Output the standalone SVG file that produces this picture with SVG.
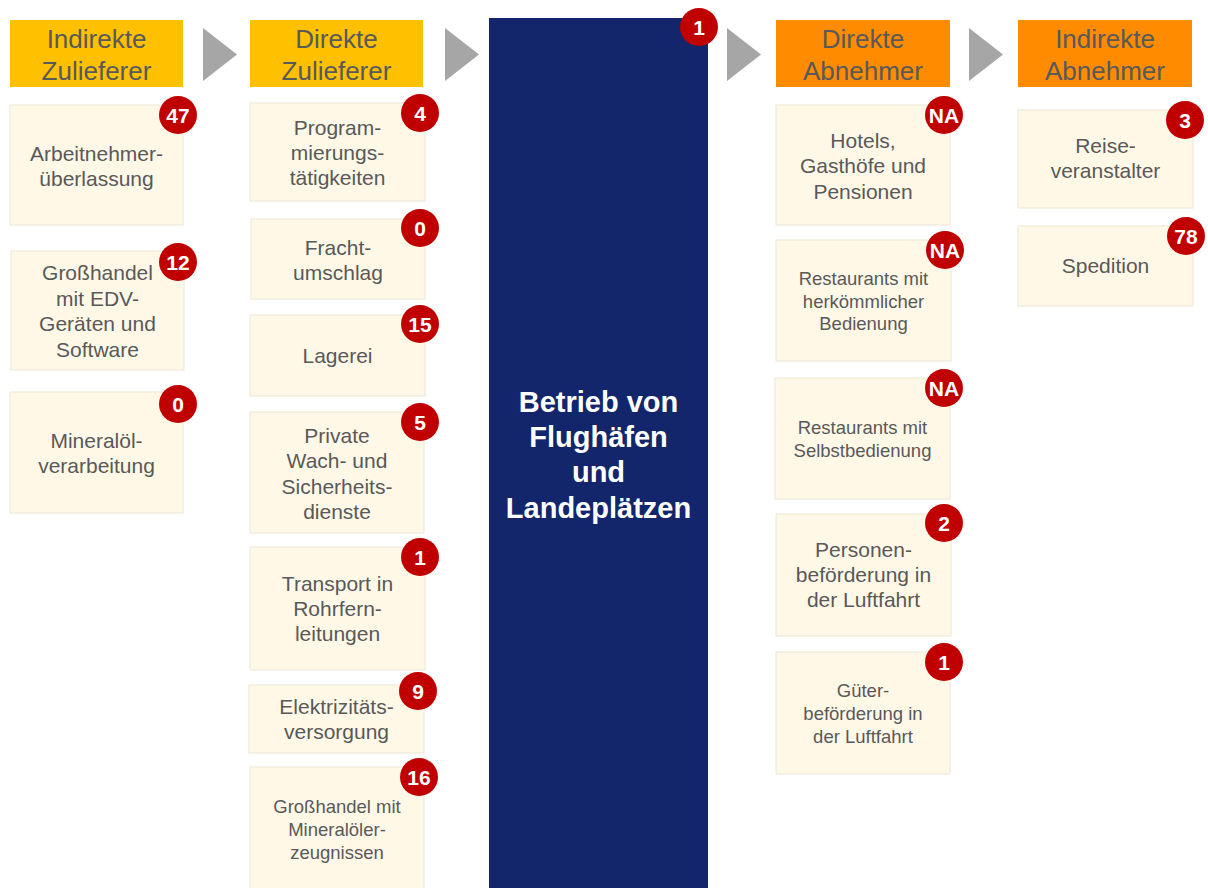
<svg xmlns="http://www.w3.org/2000/svg" width="1208" height="888" viewBox="0 0 1208 888">
<style>
.hdr1{fill:#FFC000}
.hdr2{fill:#FF8C00}
.ht{font-family:"Liberation Sans",Arial,sans-serif;font-size:26px;fill:#595959;text-anchor:middle}
.card{fill:#FFF8E7;stroke:#ECE6D6;stroke-width:1}
.ct{font-family:"Liberation Sans",Arial,sans-serif;font-size:21px;fill:#595959;text-anchor:middle}
.cs{font-family:"Liberation Sans",Arial,sans-serif;font-size:18.5px;fill:#595959;text-anchor:middle}
.bd{fill:#C00000}
.bt{font-family:"Liberation Sans",Arial,sans-serif;font-size:21px;font-weight:bold;fill:#FFFFFF;text-anchor:middle}
.chev{fill:#A6A6A6}
.main{fill:#13266B}
.mt{font-family:"Liberation Sans",Arial,sans-serif;font-size:29px;font-weight:bold;fill:#FFFFFF;text-anchor:middle}
</style>
<rect width="1208" height="888" fill="#FFFFFF"/>
<g id="connectors">
<polygon class="chev" points="203,28 237,54.5 203,81"/>
<polygon class="chev" points="445,28 479,54.5 445,81"/>
<polygon class="chev" points="727,28 761,54.5 727,81"/>
<polygon class="chev" points="969,28 1003,54.5 969,81"/>
</g>
<g id="hdr-indirekte-zulieferer">
<rect class="hdr1" x="10" y="20" width="173" height="67"/>
<text class="ht" x="96.5" y="48">Indirekte</text>
<text class="ht" x="96.5" y="80">Zulieferer</text>
</g>
<g id="hdr-direkte-zulieferer">
<rect class="hdr1" x="250" y="20" width="173" height="67"/>
<text class="ht" x="336.5" y="48">Direkte</text>
<text class="ht" x="336.5" y="80">Zulieferer</text>
</g>
<g id="hdr-direkte-abnehmer">
<rect class="hdr2" x="776" y="20" width="174" height="67"/>
<text class="ht" x="863" y="48">Direkte</text>
<text class="ht" x="863" y="80">Abnehmer</text>
</g>
<g id="hdr-indirekte-abnehmer">
<rect class="hdr2" x="1018" y="20" width="174" height="67"/>
<text class="ht" x="1105" y="48">Indirekte</text>
<text class="ht" x="1105" y="80">Abnehmer</text>
</g>
<g id="main">
<rect class="main" x="489" y="18" width="219" height="870"/>
<text class="mt" x="598.5" y="412">Betrieb von</text>
<text class="mt" x="598.5" y="447">Flughäfen</text>
<text class="mt" x="598.5" y="482">und</text>
<text class="mt" x="598.5" y="518">Landeplätzen</text>
<circle class="bd" cx="699" cy="27" r="19"/>
<text class="bt" x="699" y="34.5">1</text>
</g>
<g id="n-arbeitnehmer">
<rect class="card" x="10" y="105" width="173" height="120"/>
<text class="ct" x="96.5" y="161">Arbeitnehmer-</text>
<text class="ct" x="96.5" y="186">überlassung</text>
<circle class="bd" cx="178" cy="115" r="19"/>
<text class="bt" x="178" y="122.5">47</text>
</g>
<g id="n-edv">
<rect class="card" x="11" y="251" width="173" height="119"/>
<text class="ct" x="97.5" y="280">Großhandel</text>
<text class="ct" x="97.5" y="305.5">mit EDV-</text>
<text class="ct" x="97.5" y="331">Geräten  und</text>
<text class="ct" x="97.5" y="356.5">Software</text>
<circle class="bd" cx="178" cy="262" r="19"/>
<text class="bt" x="178" y="269.5">12</text>
</g>
<g id="n-mineraloel">
<rect class="card" x="10" y="392" width="173" height="121"/>
<text class="ct" x="96.5" y="448">Mineralöl-</text>
<text class="ct" x="96.5" y="473">verarbeitung</text>
<circle class="bd" cx="178" cy="404" r="19"/>
<text class="bt" x="178" y="411.5">0</text>
</g>
<g id="n-programmierung">
<rect class="card" x="250" y="103" width="175" height="98"/>
<text class="ct" x="337.5" y="135">Program-</text>
<text class="ct" x="337.5" y="160">mierungs-</text>
<text class="ct" x="337.5" y="185">tätigkeiten</text>
<circle class="bd" cx="420" cy="113" r="19"/>
<text class="bt" x="420" y="120.5">4</text>
</g>
<g id="n-fracht">
<rect class="card" x="251" y="219" width="174" height="80"/>
<text class="ct" x="338" y="255">Fracht-</text>
<text class="ct" x="338" y="280">umschlag</text>
<circle class="bd" cx="420" cy="228" r="19"/>
<text class="bt" x="420" y="235.5">0</text>
</g>
<g id="n-lagerei">
<rect class="card" x="250" y="315" width="175" height="81"/>
<text class="ct" x="337.5" y="363">Lagerei</text>
<circle class="bd" cx="420" cy="324" r="19"/>
<text class="bt" x="420" y="331.5">15</text>
</g>
<g id="n-wach">
<rect class="card" x="250" y="412" width="174" height="121"/>
<text class="ct" x="337" y="443">Private</text>
<text class="ct" x="337" y="468">Wach- und</text>
<text class="ct" x="337" y="494">Sicherheits-</text>
<text class="ct" x="337" y="519">dienste</text>
<circle class="bd" cx="420" cy="422" r="19"/>
<text class="bt" x="420" y="429.5">5</text>
</g>
<g id="n-rohr">
<rect class="card" x="250" y="547" width="175" height="123"/>
<text class="ct" x="337.5" y="591">Transport  in</text>
<text class="ct" x="337.5" y="616">Rohrfern-</text>
<text class="ct" x="337.5" y="641">leitungen</text>
<circle class="bd" cx="420" cy="557" r="19"/>
<text class="bt" x="420" y="564.5">1</text>
</g>
<g id="n-elektro">
<rect class="card" x="249" y="685" width="175" height="68"/>
<text class="ct" x="336.5" y="714">Elektrizitäts-</text>
<text class="ct" x="336.5" y="739">versorgung</text>
<circle class="bd" cx="418" cy="691" r="19"/>
<text class="bt" x="418" y="698.5">9</text>
</g>
<g id="n-mineraloelerz">
<rect class="card" x="250" y="767" width="174" height="125"/>
<text class="cs" x="337" y="813">Großhandel mit</text>
<text class="cs" x="337" y="836">Mineralöler-</text>
<text class="cs" x="337" y="859">zeugnissen</text>
<circle class="bd" cx="419" cy="777" r="19"/>
<text class="bt" x="419" y="784.5">16</text>
</g>
<g id="n-hotels">
<rect class="card" x="776" y="105" width="174" height="120"/>
<text class="ct" x="863" y="148">Hotels,</text>
<text class="ct" x="863" y="173">Gasthöfe  und</text>
<text class="ct" x="863" y="199">Pensionen</text>
<circle class="bd" cx="944" cy="115" r="19"/>
<text class="bt" x="944" y="122.5">NA</text>
</g>
<g id="n-rest-herk">
<rect class="card" x="776" y="240" width="175" height="121"/>
<text class="cs" x="863.5" y="285">Restaurants mit</text>
<text class="cs" x="863.5" y="308">herkömmlicher</text>
<text class="cs" x="863.5" y="330">Bedienung</text>
<circle class="bd" cx="945" cy="250" r="19"/>
<text class="bt" x="945" y="257.5">NA</text>
</g>
<g id="n-rest-selbst">
<rect class="card" x="775" y="378" width="175" height="121"/>
<text class="cs" x="862.5" y="434">Restaurants mit</text>
<text class="cs" x="862.5" y="457">Selbstbedienung</text>
<circle class="bd" cx="944" cy="388" r="19"/>
<text class="bt" x="944" y="395.5">NA</text>
</g>
<g id="n-personen">
<rect class="card" x="776" y="514" width="175" height="122"/>
<text class="ct" x="863.5" y="557">Personen-</text>
<text class="ct" x="863.5" y="582">beförderung in</text>
<text class="ct" x="863.5" y="607">der Luftfahrt</text>
<circle class="bd" cx="944" cy="523" r="19"/>
<text class="bt" x="944" y="530.5">2</text>
</g>
<g id="n-gueter">
<rect class="card" x="776" y="652" width="174" height="122"/>
<text class="cs" x="863" y="697">Güter-</text>
<text class="cs" x="863" y="720">beförderung in</text>
<text class="cs" x="863" y="743">der Luftfahrt</text>
<circle class="bd" cx="944" cy="662" r="19"/>
<text class="bt" x="944" y="669.5">1</text>
</g>
<g id="n-reise">
<rect class="card" x="1018" y="110" width="175" height="98"/>
<text class="ct" x="1105.5" y="153">Reise-</text>
<text class="ct" x="1105.5" y="178">veranstalter</text>
<circle class="bd" cx="1185" cy="120" r="19"/>
<text class="bt" x="1185" y="127.5">3</text>
</g>
<g id="n-spedition">
<rect class="card" x="1018" y="226" width="175" height="80"/>
<text class="ct" x="1105.5" y="273">Spedition</text>
<circle class="bd" cx="1186" cy="236" r="19"/>
<text class="bt" x="1186" y="243.5">78</text>
</g>
</svg>
